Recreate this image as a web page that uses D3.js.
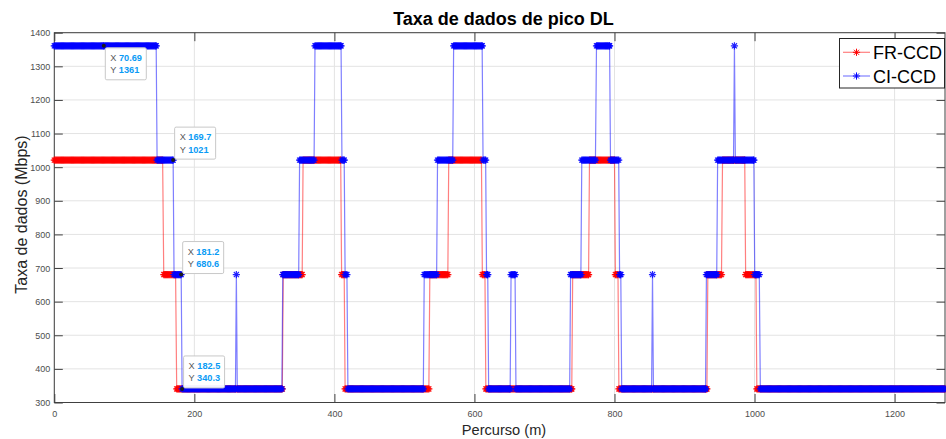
<!DOCTYPE html>
<html>
<head>
<meta charset="utf-8">
<script src="https://cdn.jsdelivr.net/npm/d3@7/dist/d3.min.js"></script>
<style>
  html, body { margin: 0; padding: 0; background: #fff; }
  svg { display: block; font-family: "Liberation Sans", Arial, Helvetica, sans-serif; }
</style>
</head>
<body>
<svg id="chart" width="946" height="439"></svg>
<script>
// Peak DL data rate along the route, two schemes, piecewise-constant runs.
const seriesNames = ["FR-CCD", "CI-CCD"];

// FR-CCD runs: start (m), end (m), rate (Mbps)
const frStart = [0, 156.3, 174.8, 327, 355.3, 410.3, 415.3, 536.3, 563.3, 611.3, 616.3, 740.3, 764.3, 801.3, 806.3, 933.3, 954.3, 987.3, 1003.3];
const frEnd   = [155, 173.5, 325.7, 354, 409, 414, 535, 562, 610, 615, 739, 763, 800, 805, 932, 953, 986, 1002, 1272];
const frRate  = [1021, 680.6, 340.3, 680.6, 1021, 680.6, 340.3, 680.6, 1021, 680.6, 340.3, 680.6, 1021, 680.6, 340.3, 680.6, 1021, 680.6, 340.3];

// CI-CCD runs: start (m), end (m), rate (Mbps)
const ciStart = [0, 72, 146.8, 171, 182.5, 260, 261.3, 326.3, 350.3, 372.3, 410.8, 415.3, 419.3, 528.3, 547.3, 570.3, 612.3, 617.3, 620.3, 652.3, 659.3, 737.3, 753.3, 774.3, 794.3, 807.3, 810.3, 854.3, 855.6, 931.3, 947.3, 971.3, 972.6, 1000.3, 1008.3];
const ciEnd   = [70.69, 145.5, 169.7, 181.2, 258.7, 260, 325, 349, 371, 409.5, 414, 418, 527, 546, 569, 611, 616, 619, 651, 658, 736, 752, 773, 793, 806, 809, 853, 854.3, 930, 946, 970, 971.3, 999, 1007, 1272];
const ciRate  = [1361, 1361, 1021, 680.6, 340.3, 680.6, 340.3, 680.6, 1021, 1361, 1021, 680.6, 340.3, 680.6, 1021, 1361, 1021, 680.6, 340.3, 680.6, 340.3, 680.6, 1021, 1361, 1021, 680.6, 340.3, 680.6, 340.3, 680.6, 1021, 1361, 1021, 680.6, 340.3];

// Distance between consecutive measurement samples (m)
const sampleStep = 1.3;

// Data tips shown on the CI-CCD curve
const tipX = [70.69, 169.7, 181.2, 182.5];
const tipY = [1361, 1021, 680.6, 340.3];
const tipLabelX = ["70.69", "169.7", "181.2", "182.5"];
const tipLabelY = ["1361", "1021", "680.6", "340.3"];

// Axis ticks
const xTicks = [0, 200, 400, 600, 800, 1000, 1200];
const yTicks = [300, 400, 500, 600, 700, 800, 900, 1000, 1100, 1200, 1300, 1400];

// Expand runs into sample points
function samples(starts, ends, rates) {
  const pts = [];
  starts.forEach((s, i) => {
    const e = ends[i];
    let last = null;
    for (let xv = s; xv <= e + 1e-6; xv += sampleStep) { pts.push({ x: xv, y: rates[i] }); last = xv; }
    if (last === null || e - last > 0.3) pts.push({ x: e, y: rates[i] });
  });
  return pts;
}
const frData = samples(frStart, frEnd, frRate);
const ciData = samples(ciStart, ciEnd, ciRate);

const svg = d3.select("#chart");
const plotL = 54.3, plotR = 945, plotT = 32.7, plotB = 402.5;

const x = d3.scaleLinear().domain([0, 1272]).range([plotL, plotR]);
const y = d3.scaleLinear().domain([300, 1400]).range([plotB, plotT]);

// Grid
const grid = svg.append("g");
grid.selectAll("line.gx").data(xTicks).join("line").attr("class", "gx")
  .attr("x1", d => x(d)).attr("x2", d => x(d)).attr("y1", plotT).attr("y2", plotB)
  .attr("stroke", "#e3e3e3").attr("stroke-width", 1);
grid.selectAll("line.gy").data(yTicks).join("line").attr("class", "gy")
  .attr("y1", d => y(d)).attr("y2", d => y(d)).attr("x1", plotL).attr("x2", plotR)
  .attr("stroke", "#e3e3e3").attr("stroke-width", 1);

// Axes (ticks pointing inward, labels outside)
const axisColor = "#404040";
const tickLen = 8.5;
const xAxis = svg.append("g").attr("transform", `translate(0,${plotB})`)
  .call(d3.axisBottom(x).tickValues(xTicks).tickSizeInner(-tickLen).tickSizeOuter(0).tickFormat(d3.format("d")));
const yAxis = svg.append("g").attr("transform", `translate(${plotL},0)`)
  .call(d3.axisLeft(y).tickValues(yTicks).tickSizeInner(-tickLen).tickSizeOuter(0).tickFormat(d3.format("d")));
const xTop = svg.append("g").attr("transform", `translate(0,${plotT})`)
  .call(d3.axisTop(x).tickValues(xTicks).tickSizeInner(-tickLen).tickSizeOuter(0).tickFormat(""));
const yRight = svg.append("g").attr("transform", `translate(${plotR},0)`)
  .call(d3.axisRight(y).tickValues(yTicks).tickSizeInner(-tickLen).tickSizeOuter(0).tickFormat(""));
[xAxis, yAxis, xTop, yRight].forEach(g => {
  g.select(".domain").remove();
  g.selectAll(".tick line").attr("stroke", axisColor);
  g.selectAll(".tick text").attr("fill", "#4d4d4d").attr("font-size", "9px")
    .attr("font-family", "'Liberation Sans', Arial, Helvetica, sans-serif");
});
xAxis.selectAll(".tick text").attr("dy", "0").attr("y", 14.5);
yAxis.selectAll(".tick text").attr("x", -4).attr("dy", "0.34em");

// Frame
svg.append("rect").attr("x", plotL).attr("y", plotT).attr("width", plotR - plotL).attr("height", plotB - plotT)
  .attr("fill", "none").attr("stroke", axisColor).attr("stroke-width", 1);

// Asterisk marker path (plus and cross)
function asterisk(r) {
  const c = r * 0.7071;
  return `M0,${-r}L0,${r}M${-r},0L${r},0M${-c},${-c}L${c},${c}M${-c},${c}L${c},${-c}`;
}
const markerPath = asterisk(3.6);

const line = d3.line().x(d => x(d.x)).y(d => y(d.y));
const plot = svg.append("g");

function drawSeries(data, lineColor, markColor) {
  const g = plot.append("g");
  g.append("path").datum(data).attr("d", line)
    .attr("fill", "none").attr("stroke", lineColor).attr("stroke-width", 1.2);
  g.selectAll("path.m").data(data).join("path").attr("class", "m")
    .attr("d", markerPath)
    .attr("transform", d => `translate(${x(d.x)},${y(d.y)})`)
    .attr("fill", "none").attr("stroke", markColor).attr("stroke-width", 1.2).attr("stroke-opacity", 0.85);
}
drawSeries(frData, "rgba(255,0,0,0.5)", "#ff0000");
drawSeries(ciData, "rgba(0,0,255,0.5)", "#0000ff");

// Data tips
const tipW = 41, tipH = 32;
const tips = svg.append("g");
tipX.forEach((tx, i) => {
  const px = x(tx), py = y(tipY[i]);
  const bx = px + 1.5;
  const by = i === 0 ? py + 2 : py - 1 - tipH;
  const g = tips.append("g");
  g.append("rect").attr("x", bx).attr("y", by).attr("width", tipW).attr("height", tipH)
    .attr("rx", 1.5).attr("fill", "rgba(255,255,255,0.95)").attr("stroke", "#c8c8c8").attr("stroke-width", 1);
  [["X", tipLabelX[i], 13], ["Y", tipLabelY[i], 25.5]].forEach(([k, v, dy]) => {
    const t = g.append("text").attr("x", bx + 5).attr("y", by + dy).attr("font-size", "9.2px");
    t.append("tspan").attr("fill", "#595959").text(k + " ");
    t.append("tspan").attr("fill", "#0a9bf5").attr("font-weight", "bold").text(v);
  });
  g.append("circle").attr("cx", px).attr("cy", py).attr("r", 2).attr("fill", "#1a1a1a");
});

// Legend
const lg = svg.append("g");
lg.append("rect").attr("x", 839.5).attr("y", 38.5).attr("width", 105).attr("height", 49.5)
  .attr("fill", "#fff").attr("stroke", "#262626").attr("stroke-width", 1);
const legendRows = [
  { name: seriesNames[0], line: "rgba(255,0,0,0.5)", mark: "#ff0000", cy: 52.3 },
  { name: seriesNames[1], line: "rgba(0,0,255,0.5)", mark: "#0000ff", cy: 76 }
];
legendRows.forEach(r => {
  lg.append("line").attr("x1", 843).attr("x2", 870).attr("y1", r.cy).attr("y2", r.cy)
    .attr("stroke", r.line).attr("stroke-width", 1.2);
  lg.append("path").attr("d", markerPath).attr("transform", `translate(856.5,${r.cy})`)
    .attr("fill", "none").attr("stroke", r.mark).attr("stroke-width", 1);
  lg.append("text").attr("x", 873).attr("y", r.cy + 6.5).attr("font-size", "18px").attr("fill", "#000").text(r.name);
});

// Titles
svg.append("text").attr("x", 503.5).attr("y", 25).attr("text-anchor", "middle")
  .attr("font-size", "18px").attr("font-weight", "bold").attr("fill", "#000").text("Taxa de dados de pico DL");
svg.append("text").attr("x", 504).attr("y", 435).attr("text-anchor", "middle")
  .attr("font-size", "14.6px").attr("fill", "#262626").text("Percurso (m)");
svg.append("text").attr("transform", "translate(26.5,214.5) rotate(-90)").attr("text-anchor", "middle")
  .attr("font-size", "16px").attr("fill", "#262626").text("Taxa de dados (Mbps)");
</script>
</body>
</html>
